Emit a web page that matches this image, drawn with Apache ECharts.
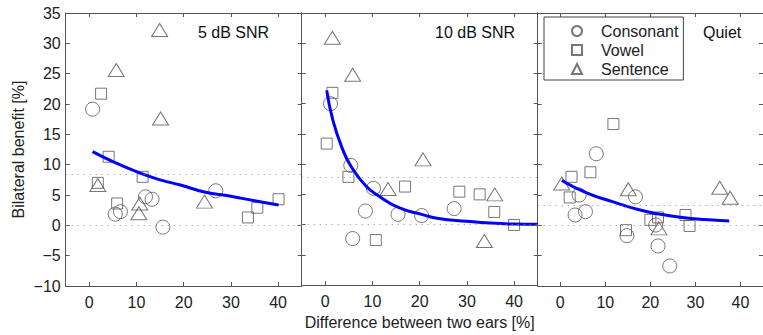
<!DOCTYPE html>
<html>
<head>
<meta charset="utf-8">
<script src="https://cdn.jsdelivr.net/npm/echarts@6/dist/echarts.min.js"></script>
<style>html,body{margin:0;padding:0;background:#fff;}#c{width:763px;height:335px;}</style>
</head>
<body>
<div id="c"></div>
<script>
// ---- data ----
const panelTitles = ['5 dB SNR', '10 dB SNR', 'Quiet'];
const xTicks = [0, 10, 20, 30, 40];
const meanLines = [8.4, 7.9, 3.35];

const snr5Consonant = [[0.7,19.15],[5.5,1.85],[6.6,2.25],[11.9,4.7],[13.3,4.3],[15.6,-0.3],[26.8,5.7]];
const snr5Vowel = [[2.5,21.7],[4.1,11.3],[11.3,8.0],[1.8,7.0],[5.9,3.6],[33.6,1.3],[35.6,2.9],[40.1,4.3]];
const snr5Sentence = [[14.9,32.2],[5.7,25.6],[15.1,17.6],[1.8,6.65],[10.7,3.6],[10.5,2.0],[24.4,3.9]];
const snr5Fit = [[0.7,12.15],[5,10.5],[10.8,8.6],[15,7.5],[19.3,6.65],[24.4,5.5],[30,4.8],[35,4.05],[40.1,3.35]];

const snr10Consonant = [[1.1,20.0],[5.4,9.8],[10.2,6.0],[8.5,2.25],[15.4,1.7],[20.4,1.5],[27.3,2.65],[5.8,-2.3]];
const snr10Vowel = [[1.5,21.8],[0.3,13.4],[4.9,7.9],[16.9,6.3],[28.4,5.45],[32.7,5.0],[35.8,2.1],[40,-0.05],[10.7,-2.55]];
const snr10Sentence = [[1.5,30.9],[5.8,24.8],[20.7,10.8],[13.3,5.9],[35.9,5.0],[33.7,-2.7]];
const snr10Fit = [[0.3,22.2],[1.6,17.3],[3.7,12.4],[5.4,9.7],[8.6,6.4],[11.4,4.7],[15.6,2.8],[20.4,1.7],[24,1.0],[30,0.55],[35,0.25],[40,0.1],[45,0.05]];

const quietConsonant = [[8.0,11.8],[4.2,5.0],[3.3,1.7],[5.6,2.25],[16.7,4.7],[14.8,-1.7],[21.2,0.05],[21.7,-3.4],[24.3,-6.7]];
const quietVowel = [[11.8,16.7],[6.7,8.75],[2.5,8.0],[2.1,4.6],[14.6,-0.8],[20,0.9],[21.7,1.3],[27.8,1.7],[28.7,-0.1]];
const quietSentence = [[0.35,6.9],[15.1,5.95],[21.9,-0.5],[35.4,6.2],[37.7,4.55]];
const quietFit = [[0.35,7.4],[6.0,5.3],[11.6,3.9],[17.3,2.6],[21.6,1.9],[27.1,1.3],[32,0.95],[37.5,0.7]];

const panels = [
  {consonant: snr5Consonant, vowel: snr5Vowel, sentence: snr5Sentence, fit: snr5Fit},
  {consonant: snr10Consonant, vowel: snr10Vowel, sentence: snr10Sentence, fit: snr10Fit},
  {consonant: quietConsonant, vowel: quietVowel, sentence: quietSentence, fit: quietFit}
];

// ---- styling ----
const FONT = 'Liberation Sans, Arial, Helvetica, sans-serif';
const AX = '#555';
const MK = '#555';
const FS = 16;
const gridLeft = 65.7, gridW = 236, gridTop = 13, gridH = 273;

const chart = echarts.init(document.getElementById('c'), null, {renderer: 'svg'});

const grids = [], xAxes = [], yAxes = [], series = [], graphics = [];
const minus = v => String(v).replace('-', '\u2212');

panels.forEach((p, i) => {
  grids.push({left: gridLeft + gridW * i, top: gridTop, width: gridW, height: gridH});
  const tick = {show: true, inside: true, length: 4, customValues: xTicks, lineStyle: {color: AX}};
  xAxes.push({
    type: 'value', gridIndex: i, min: -5, max: 45, position: 'bottom',
    axisLine: {show: true, onZero: false, lineStyle: {color: AX}},
    axisTick: tick,
    axisLabel: {customValues: xTicks, color: '#222', fontSize: FS, fontFamily: FONT, margin: 8},
    splitLine: {show: false},
    name: i === 1 ? 'Difference between two ears [%]' : '',
    nameLocation: 'middle', nameGap: 21,
    nameTextStyle: {color: '#222', fontSize: FS, fontFamily: FONT}
  });
  xAxes.push({
    type: 'value', gridIndex: i, min: -5, max: 45, position: 'top',
    axisLine: {show: true, onZero: false, lineStyle: {color: AX}},
    axisTick: tick, axisLabel: {show: false}, splitLine: {show: false}
  });
  const ytick = {show: true, inside: true, length: 4, lineStyle: {color: AX}};
  yAxes.push({
    type: 'value', gridIndex: i, min: -10, max: 35, interval: 5, position: 'left',
    axisLine: {show: true, onZero: false, lineStyle: {color: AX}},
    axisTick: ytick,
    axisLabel: {show: i === 0, color: '#222', fontSize: FS, fontFamily: FONT, margin: 5, formatter: minus},
    splitLine: {show: false},
    name: i === 0 ? 'Bilateral benefit [%]' : '',
    nameLocation: 'middle', nameGap: 39,
    nameTextStyle: {color: '#222', fontSize: FS, fontFamily: FONT}
  });
  yAxes.push({
    type: 'value', gridIndex: i, min: -10, max: 35, interval: 5, position: 'right',
    axisLine: {show: true, onZero: false, lineStyle: {color: AX}},
    axisTick: ytick, axisLabel: {show: false}, splitLine: {show: false}
  });
  const xi = 2 * i, yi = 2 * i;
  series.push({
    type: 'line', xAxisIndex: xi, yAxisIndex: yi, data: [], z: 1, silent: true,
    markLine: {
      silent: true, symbol: 'none', animation: false,
      label: {show: false},
      lineStyle: {type: [1, 5], color: '#888', width: 1},
      data: [{yAxis: 0}, {yAxis: meanLines[i]}]
    }
  });
  const mk = {color: 'rgba(0,0,0,0)', borderColor: MK, borderWidth: 1};
  series.push({name: 'Consonant', type: 'scatter', xAxisIndex: xi, yAxisIndex: yi, data: p.consonant,
    symbol: 'circle', symbolSize: 14, itemStyle: mk, z: 2, emphasis: {disabled: true}});
  series.push({name: 'Vowel', type: 'scatter', xAxisIndex: xi, yAxisIndex: yi, data: p.vowel,
    symbol: 'rect', symbolSize: 11, itemStyle: mk, z: 2, emphasis: {disabled: true}});
  series.push({name: 'Sentence', type: 'scatter', xAxisIndex: xi, yAxisIndex: yi, data: p.sentence,
    symbol: 'triangle', symbolSize: [16, 13], itemStyle: mk, z: 2, emphasis: {disabled: true}});
  series.push({name: 'fit' + i, type: 'line', xAxisIndex: xi, yAxisIndex: yi, data: p.fit,
    smooth: true, showSymbol: false, lineStyle: {color: '#0000ff', width: 3}, z: 3, silent: true});
});

const titleX = [198, 435, 703];
panelTitles.forEach((t, i) => {
  graphics.push({type: 'text', x: titleX[i], y: 32, silent: true,
    style: {text: t, fill: '#111', font: FS + 'px ' + FONT, verticalAlign: 'middle'}});
});

chart.setOption({
  animation: false,
  backgroundColor: '#fff',
  grid: grids, xAxis: xAxes, yAxis: yAxes, series: series,
  graphic: graphics,
  legend: {
    data: ['Consonant', 'Vowel', 'Sentence'],
    orient: 'vertical', left: 544, top: 17,
    padding: [6, 5, 3, 27], itemWidth: 10, itemHeight: 10, itemGap: 3,
    borderColor: '#444', borderWidth: 1, backgroundColor: '#fff',
    selectedMode: false,
    textStyle: {fontSize: FS, fontFamily: FONT, color: '#222', lineHeight: 16, padding: [0, 0, 0, 14]}
  }
});
</script>
</body>
</html>
